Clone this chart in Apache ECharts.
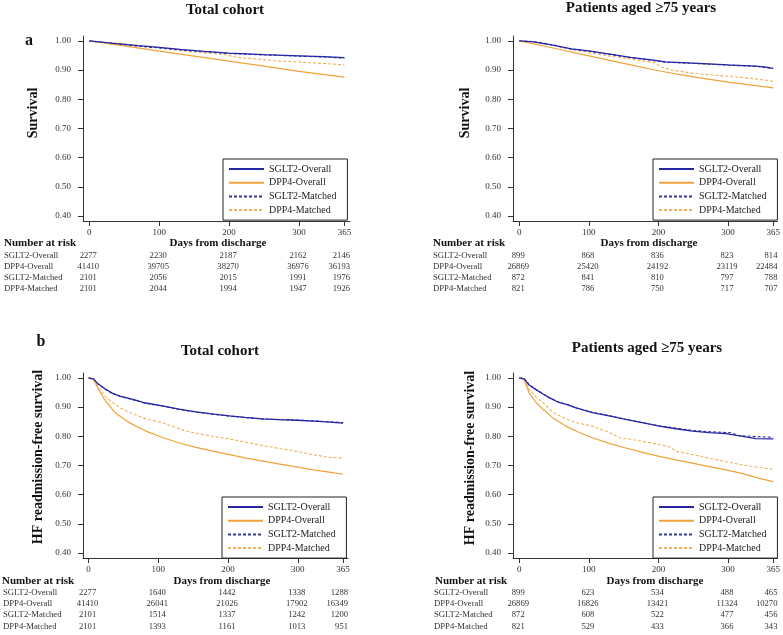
<!DOCTYPE html>
<html><head><meta charset="utf-8">
<script src="https://cdn.jsdelivr.net/npm/echarts@6/dist/echarts.min.js"></script>
<style>html,body{margin:0;padding:0;background:#fff}#c{width:783px;height:635px}</style>
</head><body><div id="c"></div>
<script>
const seriesNames = ['SGLT2-Overall', 'DPP4-Overall', 'SGLT2-Matched', 'DPP4-Matched'];
const xTicks = [0, 100, 200, 300, 365];
const yTicks = [0.4, 0.5, 0.6, 0.7, 0.8, 0.9, 1.0];

// Panel a, total cohort: survival  [day, value]
const a1_sglt2Overall = [[0,1],[35,0.992],[70,0.984],[100,0.978],[130,0.971],[165,0.964],[200,0.958],[250,0.953],[300,0.949],[335,0.946],[365,0.943]];
const a1_dpp4Overall = [[0,1],[50,0.983],[100,0.965],[150,0.948],[200,0.931],[250,0.914],[300,0.896],[365,0.876]];
const a1_sglt2Matched = [[0,1],[35,0.991],[70,0.982],[100,0.976],[130,0.969],[165,0.963],[200,0.957],[250,0.952],[300,0.948],[335,0.945],[365,0.941]];
const a1_dpp4Matched = [[0,1],[50,0.99],[100,0.976],[150,0.962],[195,0.953],[212,0.943],[250,0.936],[274,0.931],[300,0.928],[340,0.922],[365,0.918]];

// Panel a, aged >=75: survival
const a2_sglt2Overall = [[0,1],[20,0.997],[50,0.985],[75,0.973],[100,0.966],[130,0.955],[160,0.944],[190,0.935],[210,0.928],[250,0.924],[300,0.918],[340,0.914],[355,0.910],[365,0.906]];
const a2_dpp4Overall = [[0,1],[50,0.975],[100,0.949],[150,0.923],[200,0.898],[250,0.877],[300,0.859],[365,0.839]];
const a2_sglt2Matched = [[0,1],[20,0.998],[50,0.986],[75,0.972],[100,0.965],[130,0.954],[160,0.943],[190,0.934],[210,0.927],[250,0.923],[300,0.917],[340,0.913],[365,0.905]];
const a2_dpp4Matched = [[0,1],[30,0.996],[60,0.978],[100,0.96],[130,0.948],[160,0.938],[195,0.925],[205,0.91],[220,0.9],[250,0.889],[300,0.879],[340,0.87],[365,0.862]];

// Panel b, total cohort: HF readmission-free survival
const b1_sglt2Overall = [[0,1],[7,0.997],[14,0.979],[24,0.962],[34,0.948],[46,0.937],[58,0.930],[70,0.922],[80,0.915],[106,0.904],[130,0.893],[154,0.884],[180,0.876],[202,0.870],[225,0.865],[250,0.860],[275,0.857],[298,0.855],[330,0.851],[365,0.845]];
const b1_dpp4Overall = [[0,1],[7,0.995],[14,0.962],[24,0.922],[38,0.881],[58,0.847],[82,0.818],[106,0.796],[130,0.777],[154,0.762],[178,0.749],[202,0.737],[226,0.725],[250,0.715],[274,0.705],[298,0.695],[322,0.685],[345,0.677],[365,0.670]];
const b1_sglt2Matched = [[0,1],[7,0.996],[14,0.978],[24,0.961],[34,0.947],[46,0.936],[58,0.929],[70,0.921],[80,0.914],[106,0.903],[130,0.892],[154,0.883],[180,0.875],[202,0.869],[225,0.864],[250,0.859],[275,0.857],[298,0.856],[330,0.852],[365,0.847]];
const b1_dpp4Matched = [[0,1],[7,0.996],[14,0.968],[24,0.937],[34,0.916],[46,0.897],[58,0.883],[70,0.871],[82,0.860],[106,0.847],[139,0.818],[160,0.808],[178,0.800],[202,0.791],[225,0.780],[250,0.768],[275,0.758],[298,0.749],[322,0.737],[345,0.728],[365,0.725]];

// Panel b, aged >=75: HF readmission-free survival
const b2_sglt2Overall = [[0,1],[7,0.997],[14,0.976],[24,0.96],[34,0.945],[45,0.93],[57,0.916],[70,0.908],[81,0.898],[105,0.881],[129,0.870],[153,0.858],[177,0.847],[201,0.835],[225,0.826],[249,0.818],[273,0.813],[297,0.809],[321,0.800],[340,0.792],[365,0.791]];
const b2_dpp4Overall = [[0,1],[7,0.995],[14,0.95],[24,0.916],[34,0.893],[48,0.864],[67,0.835],[86,0.813],[105,0.795],[129,0.776],[153,0.760],[177,0.745],[201,0.731],[225,0.719],[249,0.708],[273,0.696],[297,0.685],[321,0.672],[345,0.656],[365,0.645]];
const b2_sglt2Matched = [[0,1],[7,0.998],[14,0.978],[24,0.961],[34,0.946],[45,0.93],[57,0.917],[70,0.908],[81,0.897],[105,0.882],[129,0.871],[153,0.858],[177,0.846],[201,0.836],[225,0.828],[249,0.820],[273,0.816],[297,0.813],[305,0.812],[315,0.803],[340,0.799],[365,0.797]];
const b2_dpp4Matched = [[0,1],[7,0.996],[14,0.962],[24,0.935],[34,0.916],[48,0.883],[65,0.862],[81,0.847],[105,0.835],[129,0.814],[144,0.795],[160,0.790],[177,0.783],[201,0.772],[215,0.765],[225,0.749],[250,0.737],[273,0.725],[297,0.713],[321,0.702],[345,0.693],[365,0.687]];

// Number at risk tables (rows in seriesNames order, columns at xTicks)
const riskA1 = [[2277,2230,2187,2162,2146],[41410,39705,38270,36976,36193],[2101,2056,2015,1991,1976],[2101,2044,1994,1947,1926]];
const riskA2 = [[899,868,836,823,814],[26869,25420,24192,23119,22484],[872,841,810,797,788],[821,786,750,717,707]];
const riskB1 = [[2277,1640,1442,1338,1288],[41410,26041,21026,17902,16349],[2101,1514,1337,1242,1200],[2101,1393,1161,1013,951]];
const riskB2 = [[899,623,534,488,465],[26869,16826,13421,11324,10270],[872,608,522,477,456],[821,529,433,366,343]];

const FONT = '"Liberation Serif","Times New Roman",serif';
const BLUE = '#2626a4', ORANGE = '#f0a23a', BLUE_D = '#363694', ORANGE_D = '#f2b05a';

const panels = [
  {grid:{left:83, top:36, width:267, height:185}, xr:[-9,373], data:[a1_sglt2Overall,a1_dpp4Overall,a1_sglt2Matched,a1_dpp4Matched], risk:riskA1,
   legend:{left:223, top:159}, title:'Total cohort', tx:225, ty:10, letter:'a', lx:29, ly:41, yName:'Survival', yx:33, yy:113,
   narX:4, narY:243, daysX:218, rows:[256,267,278,289], labX:4},
  {grid:{left:513, top:36, width:265, height:185}, xr:[-9,371], data:[a2_sglt2Overall,a2_dpp4Overall,a2_sglt2Matched,a2_dpp4Matched], risk:riskA2,
   legend:{left:653, top:159}, title:'Patients aged \u226575 years', tx:641, ty:8, yName:'Survival', yx:465, yy:113,
   narX:433, narY:243, daysX:649, rows:[256,267,278,289], labX:433},
  {grid:{left:83, top:373, width:265, height:185}, xr:[-8,372], data:[b1_sglt2Overall,b1_dpp4Overall,b1_sglt2Matched,b1_dpp4Matched], risk:riskB1,
   legend:{left:222, top:497}, title:'Total cohort', tx:220, ty:351, letter:'b', lx:41, ly:342, yName:'HF readmission-free survival', yx:38, yy:457,
   narX:2, narY:581, daysX:222, rows:[593,604,615,627], labX:3},
  {grid:{left:513, top:373, width:265, height:185}, xr:[-9,371], data:[b2_sglt2Overall,b2_dpp4Overall,b2_sglt2Matched,b2_dpp4Matched], risk:riskB2,
   legend:{left:653, top:497}, title:'Patients aged \u226575 years', tx:647, ty:348, yName:'HF readmission-free survival', yx:470, yy:458,
   narX:435, narY:581, daysX:655, rows:[593,604,615,627], labX:434}
];

const styles = [
  {color:BLUE, type:'solid', width:1.3},
  {color:ORANGE, type:'solid', width:1.2},
  {color:BLUE_D, type:[3,2], width:1.1},
  {color:ORANGE_D, type:[3,2], width:1.1}
];

const axisCol = '#333';
const option = {
  animation:false,
  backgroundColor:'#fff',
  grid: panels.map(p => Object.assign({containLabel:false}, p.grid)),
  xAxis: panels.map((p,i) => ({
    type:'value', gridIndex:i, min:p.xr[0], max:p.xr[1],
    splitLine:{show:false},
    axisLine:{show:true, onZero:false, lineStyle:{color:axisCol, width:1}},
    axisTick:{show:true, length:5, customValues:xTicks, lineStyle:{color:axisCol}},
    axisLabel:{customValues:xTicks, margin:7, fontFamily:FONT, fontSize:9, color:'#333'}
  })),
  yAxis: panels.map((p,i) => ({
    type:'value', gridIndex:i, min:0.383, max:1.017,
    splitLine:{show:false},
    axisLine:{show:true, onZero:false, lineStyle:{color:axisCol, width:1}},
    axisTick:{show:true, length:5, customValues:yTicks, lineStyle:{color:axisCol}},
    axisLabel:{customValues:yTicks, margin:12, fontFamily:FONT, fontSize:9, color:'#333', formatter:v => v.toFixed(2)}
  })),
  legend: panels.map(p => ({
    left:p.legend.left, top:p.legend.top, orient:'vertical', itemWidth:35, itemHeight:10, itemGap:3.7,
    padding:[5,11,5,5], borderColor:'#222', borderWidth:1, backgroundColor:'#fff', borderRadius:0,
    itemStyle:{opacity:0, color:'rgba(0,0,0,0)', borderWidth:0},
    textStyle:{fontFamily:FONT, fontSize:10, color:'#222'}, data:seriesNames.slice(), selectedMode:false
  })),
  series: []
};
panels.forEach((p,i) => {
  p.data.forEach((d,k) => {
    option.series.push({
      type:'line', name:seriesNames[k], xAxisIndex:i, yAxisIndex:i, data:d,
      showSymbol:false, symbol:'none', smooth:false, z: 10-k,
      lineStyle:styles[k], itemStyle:{color:styles[k].color}
    });
  });
});

const chart = echarts.init(document.getElementById('c'), null, {renderer:'canvas'});
chart.setOption(option);

const g = [];
panels.forEach((p,i) => {
  g.push({type:'text', x:p.tx, y:p.ty, style:{text:p.title, font:'bold 15px '+FONT, fill:'#111', textAlign:'center', textVerticalAlign:'middle'}});
  if (p.letter) g.push({type:'text', x:p.lx, y:p.ly, style:{text:p.letter, font:'bold 16px '+FONT, fill:'#111', textAlign:'center', textVerticalAlign:'middle'}});
  g.push({type:'text', x:p.yx, y:p.yy, rotation:Math.PI/2, style:{text:p.yName, font:'bold 14px '+FONT, fill:'#111', textAlign:'center', textVerticalAlign:'middle'}});
  g.push({type:'text', x:p.narX, y:p.narY, style:{text:'Number at risk', font:'bold 11px '+FONT, fill:'#111', textAlign:'left', textVerticalAlign:'middle'}});
  g.push({type:'text', x:p.daysX, y:p.narY, style:{text:'Days from discharge', font:'bold 11px '+FONT, fill:'#111', textAlign:'center', textVerticalAlign:'middle'}});
  const endPx = chart.convertToPixel({xAxisIndex:i}, p.xr[1]);
  p.risk.forEach((row,r) => {
    g.push({type:'text', x:p.labX, y:p.rows[r], style:{text:seriesNames[r], font:'8.7px '+FONT, fill:'#333', textAlign:'left', textVerticalAlign:'middle'}});
    row.forEach((v,c) => {
      const last = c === row.length - 1;
      const px = last ? endPx : chart.convertToPixel({xAxisIndex:i}, xTicks[c]) - 1;
      g.push({type:'text', x:px, y:p.rows[r], style:{text:String(v), font:'8.6px '+FONT, fill:'#333', textAlign:last ? 'right' : 'center', textVerticalAlign:'middle'}});
    });
  });
});
chart.setOption({graphic:{elements:g}});
</script>
</body></html>
